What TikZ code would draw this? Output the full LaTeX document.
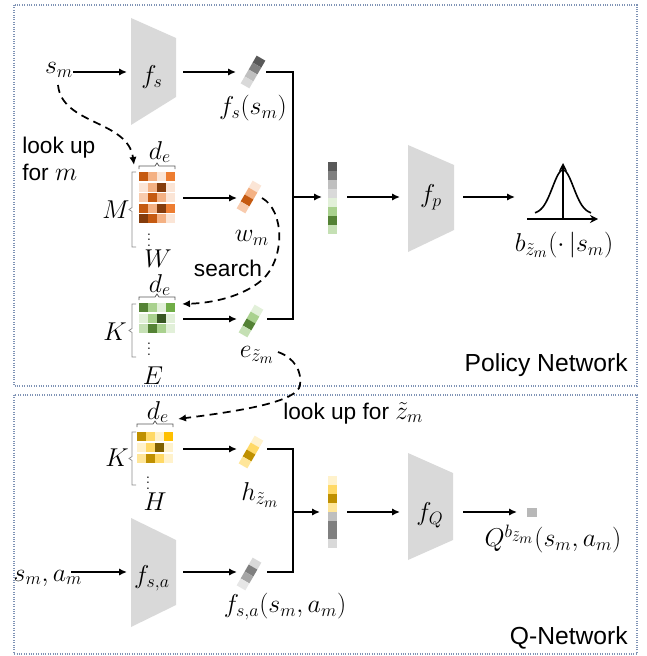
\documentclass[tikz,border=0pt]{standalone}
\usepackage{fontspec}
\newfontfamily\sansf{Liberation Sans}
\usetikzlibrary{arrows.meta}
\definecolor{boxc}{HTML}{7F93B5}
\definecolor{trapc}{HTML}{D9D9D9}
\definecolor{brc}{HTML}{8C8C8C}
\definecolor{o1}{HTML}{843C0C}\definecolor{o2}{HTML}{C55A11}\definecolor{o3}{HTML}{ED7D31}
\definecolor{o4}{HTML}{F4B183}\definecolor{o5}{HTML}{F8CBAD}\definecolor{o6}{HTML}{FBE5D6}
\definecolor{g1}{HTML}{385723}\definecolor{g2}{HTML}{548235}\definecolor{g3}{HTML}{70AD47}
\definecolor{g4}{HTML}{A9D18E}\definecolor{g5}{HTML}{C5E0B4}\definecolor{g6}{HTML}{E2F0D9}
\definecolor{y1}{HTML}{7F6000}\definecolor{y2}{HTML}{BF9000}\definecolor{y3}{HTML}{FFC000}
\definecolor{y4}{HTML}{FFD966}\definecolor{y5}{HTML}{FFE699}\definecolor{y6}{HTML}{FFF2CC}
\definecolor{k1}{HTML}{595959}\definecolor{k2}{HTML}{7F7F7F}\definecolor{k3}{HTML}{A6A6A6}
\definecolor{k4}{HTML}{BFBFBF}\definecolor{k5}{HTML}{D9D9D9}\definecolor{k6}{HTML}{E6E6E6}
% scaled math
\newcommand\mm[1]{\scalebox{1.12}{$#1$}}
% matrix row: x, y, four colours
\newcommand\mrow[3]{\foreach \cc [count=\ii from 0] in {#3} {\fill[\cc] ({#1+9*\ii},#2) rectangle ++(9,9);}}
% vertical bar: x, ytop, colours
\newcommand\vbarr[3]{\foreach \cc [count=\ii from 0] in {#3} {\fill[\cc] (#1,{#2+9*\ii}) rectangle ++(9,9);}}
% tilted bar: centre x, centre y, colours
\newcommand\tbarr[3]{\begin{scope}[shift={(#1,#2)},rotate=-30]\foreach \cc [count=\ii from 0] in {#3} {\fill[\cc] (-5,{-16+8*\ii}) rectangle ++(10,8);}\end{scope}}
% left bracket: x, top, bottom
\newcommand\lbrk[3]{\draw[brk] ({#1+4},#2) -- (#1,#2) -- (#1,{(#2+#3)/2-2}) -- ({#1-3},{(#2+#3)/2}) -- (#1,{(#2+#3)/2+2}) -- (#1,#3) -- ({#1+4},#3);}
% top brace: x1, x2, y
\newcommand\tbrk[3]{\draw[tbr] (#1,{#3+3}) -- (#1,#3) -- ({(#1+#2)/2-2},#3) -- ({(#1+#2)/2},{#3-3}) -- ({(#1+#2)/2+2},#3) -- (#2,#3) -- (#2,{#3+3});}
\begin{document}
\begin{tikzpicture}[x=0.75pt,y=-0.75pt,
  arr/.style={-{Latex[length=6pt,width=5.5pt]},line width=1.3pt},
  ln/.style={line width=1.3pt},
  dsh/.style={-{Latex[length=6pt,width=5.5pt]},line width=1.3pt,dash pattern=on 6pt off 4pt},
  trap/.style={fill=trapc},
  mth/.style={font=\fontsize{17.28}{19}\selectfont,inner sep=0pt},
  dts/.style={font=\fontsize{12}{12}\selectfont,inner sep=0pt},
  sns/.style={font=\sansf\fontsize{17}{20}\selectfont,inner sep=0pt},
  ttl/.style={font=\sansf\fontsize{18.5}{22}\selectfont,inner sep=0pt},
  brk/.style={draw=brc,line width=0.6pt},
  tbr/.style={draw=k1,line width=0.6pt},
  netbox/.style={draw=boxc,line width=0.8pt,densely dotted}]
\useasboundingbox (0,0) rectangle (646,656);
% network boxes
\draw[netbox] (14,5) rectangle (637,386);
\draw[netbox] (14,395) rectangle (637,654);
% ---------- Policy network ----------
\fill[trap] (131,18) -- (176,38) -- (176,97) -- (131,125) -- cycle;
\node[mth] (fs) at (152,77) {\mm{f_s}};
\node[mth] (sm) at (59,70) {\mm{s_m}};
\tbarr{253}{72}{k1,k2,k4,k5}
\node[mth] (fssm) at (253,108) {\mm{f_s(s_m)}};
% M matrix
\mrow{139}{172}{o2,o4,o6,o3}
\mrow{139}{182.5}{o6,o4,o1,o6}
\mrow{139}{193}{o5,o2,o4,o6}
\mrow{139}{203.5}{o2,o4,o1,o3}
\mrow{139}{214}{o1,o2,o4,o6}
\lbrk{132}{172}{247}
\tbrk{139}{175}{166}
\node[mth] (de1) at (160,152) {\mm{d_e}};
\node[mth] (M) at (116,210) {\mm{M}};
\node[dts] (dots1) at (149,236) {$\vdots$};
\node[mth] (W) at (158,259) {\mm{W}};
\tbarr{249}{197}{o6,o4,o2,o5}
\node[mth] (wm) at (252,238) {\mm{w_m}};
% K green
\mrow{139}{303}{g2,g4,g6,g3}
\mrow{139}{313.5}{g6,g4,g1,g6}
\mrow{139}{324}{g5,g2,g4,g6}
\lbrk{132}{304}{357}
\tbrk{139}{175}{297}
\node[mth] (de2) at (160,285) {\mm{d_e}};
\node[mth] (K1) at (115,332) {\mm{K}};
\node[dts] (dots2) at (149,345) {$\vdots$};
\node[mth] (E) at (153,376) {\mm{E}};
\tbarr{251}{321}{g6,g4,g2,g5}
\node[mth] (ez) at (257,355) {\mm{e_{\tilde z_m}}};
% concat vector
\vbarr{328}{162}{k1,k2,k4,k5,g6,g4,g2,g5}
\fill[trap] (408,145) -- (454,165) -- (454,230) -- (408,252) -- cycle;
\node[mth] (fp) at (431,197) {\mm{f_p}};
% gaussian
\draw[line width=1.2pt] plot[domain=-28:28,samples=70] ({563+\x},{214-44*exp(-(\x*\x)/220)});
\draw[-{Stealth[length=6pt,width=6pt]},line width=1.1pt] (527,219) -- (598,219);
\draw[-{Stealth[length=6pt,width=6pt]},line width=1.1pt] (563,219) -- (563,163);
\node[mth] (bz) at (564,245) {\mm{b_{\tilde z_m}(\cdot\,|s_m)}};
\node[sns,align=left,anchor=north west] (lookm) at (22,137) {look up\\for \mm{m}};
\node[sns] (srch) at (228,268) {search};
\node[ttl,anchor=east] (pn) at (628,365) {Policy Network};
% coordinates for connectors
\coordinate (sm-o) at (73,72);   \coordinate (fs-i) at (127,72);
\coordinate (fs-o) at (183,72);  \coordinate (fsb-i) at (236,72);
\coordinate (fsb-o) at (266,72); \coordinate (j1t) at (293,72);
\coordinate (j1m) at (293,197);  \coordinate (j1b) at (293,319);
\coordinate (ez-o) at (267,319); \coordinate (cat1-i) at (322,197);
\coordinate (cat1-o) at (347,197); \coordinate (fp-i) at (400,197);
\coordinate (fp-o) at (463,197); \coordinate (g-i) at (515,197);
\coordinate (M-o) at (183,198);  \coordinate (wm-i) at (237,198);
\coordinate (K1-o) at (183,319); \coordinate (ez-i) at (237,319);
\coordinate (sm-d) at (58,85);   \coordinate (M-t) at (134,165);
\coordinate (wm-r) at (262,198); \coordinate (K1-r) at (182,304);
\coordinate (ez-r) at (278,352); \coordinate (K2-r) at (178,419);
\draw[arr] (sm-o) -- (fs-i);
\draw[arr] (fs-o) -- (fsb-i);
\draw[ln] (fsb-o) -- (j1t) -- (j1b) -- (ez-o);
\draw[arr] (j1m) -- (cat1-i);
\draw[arr] (cat1-o) -- (fp-i);
\draw[arr] (fp-o) -- (g-i);
\draw[arr] (M-o) -- (wm-i);
\draw[arr] (K1-o) -- (ez-i);
\draw[dsh] (sm-d) .. controls (62,125) and (128,120) .. (M-t);
\draw[dsh] (wm-r) .. controls (284,210) and (286,258) .. (262,280) .. controls (242,297) and (212,303) .. (K1-r);
\draw[dsh] (ez-r) .. controls (295,358) and (302,372) .. (300,385) .. controls (298,402) and (240,411) .. (K2-r);
% ---------- Q network ----------
\node[sns,anchor=west] (lookz) at (283,413) {look up for \mm{\tilde z_m}};
\mrow{137}{432}{y2,y4,y6,y3}
\mrow{137}{443}{y6,y4,y1,y6}
\mrow{137}{454}{y5,y2,y4,y6}
\lbrk{132}{432}{485}
\tbrk{137}{173}{424}
\node[mth] (de3) at (158,412) {\mm{d_e}};
\node[mth] (K2) at (117,458) {\mm{K}};
\node[dts] (dots3) at (148,479) {$\vdots$};
\node[mth] (H) at (155,502) {\mm{H}};
\tbarr{251}{452}{y6,y4,y2,y5}
\node[mth] (hz) at (260,495) {\mm{h_{\tilde z_m}}};
\fill[trap] (131,518) -- (176,540) -- (176,605) -- (131,627) -- cycle;
\node[mth] (fsa) at (152,578) {\mm{f_{s,a}}};
\node[mth] (sa) at (48,578) {\mm{s_m,a_m}};
\tbarr{249}{574}{k5,k2,k3,k6}
\node[mth] (fsab) at (285,607) {\mm{f_{s,a}(s_m,a_m)}};
\vbarr{328}{476}{y6,y4,y2,y5,k4,k2,k2,k5}
\fill[trap] (408,453) -- (453,473) -- (453,540) -- (408,560) -- cycle;
\node[mth] (fQ) at (430,515) {\mm{f_Q}};
\fill[trapc!85!black] (527,508) rectangle (537,517);
\node[mth] (Qv) at (553,539) {\mm{Q^{b_{\tilde z_m}}(s_m,a_m)}};
\node[ttl,anchor=east] (qn) at (628,638) {Q-Network};
\coordinate (K2-o) at (183,449); \coordinate (hz-i) at (237,449);
\coordinate (hz-o) at (267,449); \coordinate (j2t) at (293,449);
\coordinate (j2m) at (293,512);  \coordinate (j2b) at (293,572);
\coordinate (fsab-o) at (267,572); \coordinate (cat2-i) at (320,512);
\coordinate (cat2-o) at (347,512); \coordinate (fQ-i) at (400,512);
\coordinate (fQ-o) at (463,512); \coordinate (Q-i) at (517,512);
\coordinate (sa-o) at (71,572);  \coordinate (fsa-i) at (127,572);
\coordinate (fsa-o) at (183,572); \coordinate (fsab-i) at (237,572);
\draw[arr] (K2-o) -- (hz-i);
\draw[ln] (hz-o) -- (j2t) -- (j2b) -- (fsab-o);
\draw[arr] (j2m) -- (cat2-i);
\draw[arr] (cat2-o) -- (fQ-i);
\draw[arr] (fQ-o) -- (Q-i);
\draw[arr] (sa-o) -- (fsa-i);
\draw[arr] (fsa-o) -- (fsab-i);
\end{tikzpicture}
\end{document}
